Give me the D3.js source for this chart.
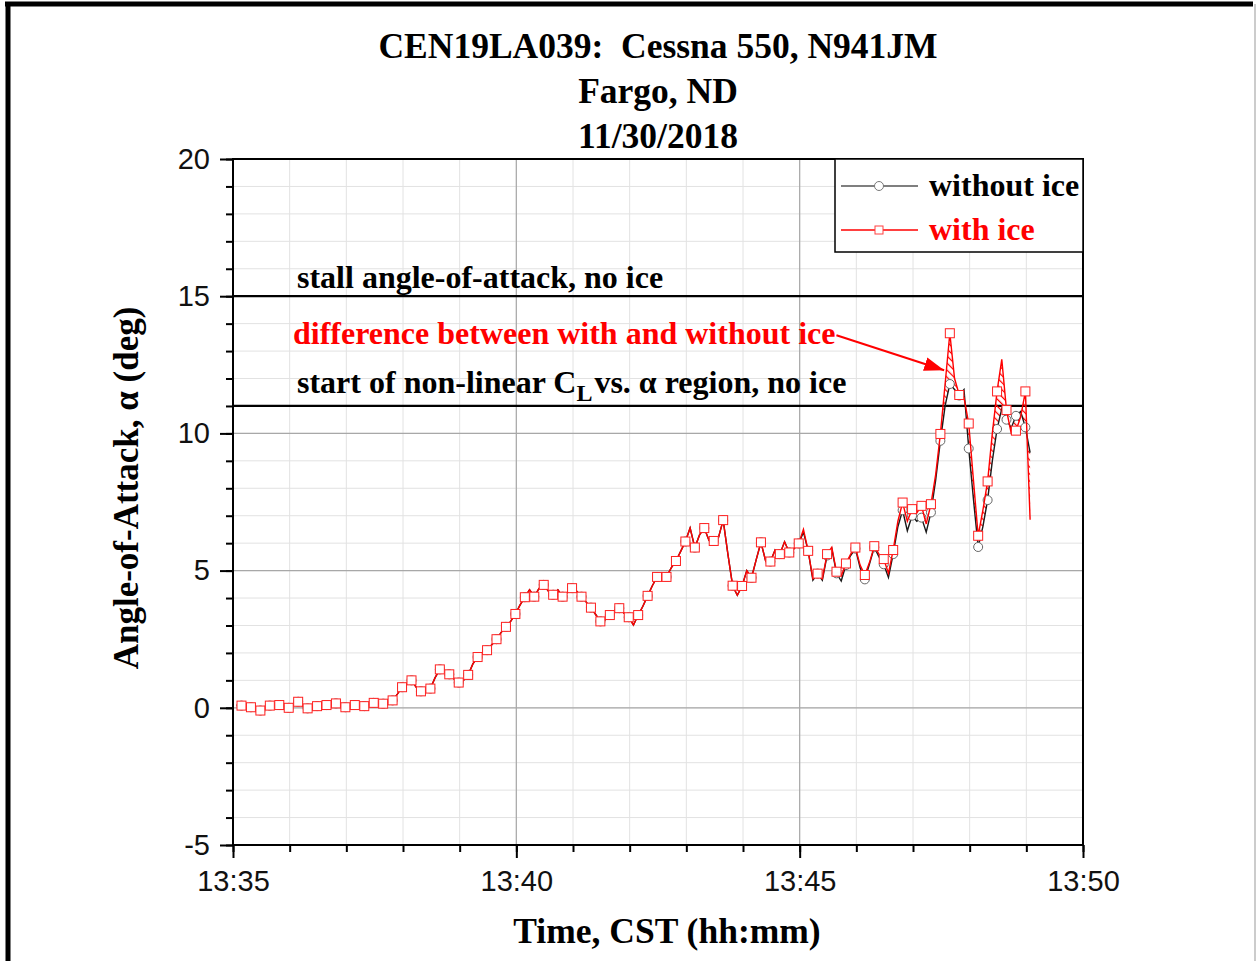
<!DOCTYPE html>
<html>
<head>
<meta charset="utf-8">
<script src="https://cdn.jsdelivr.net/npm/d3@7"></script>
<style>
  body { margin: 0; background: #fff; }
  .serif { font-family: "Liberation Serif", "Times New Roman", serif; font-weight: bold; }
  .axis text { font-family: "Liberation Sans", Arial, sans-serif; font-size: 29px; fill: #111; }
</style>
</head>
<body>
<div id="chart"></div>
<script>
// seconds after 13:35:00, one row per minute
var secs = [
  4, 9, 14, 19, 24, 29, 34, 39, 44, 49, 54, 59,
  64, 69, 74, 79, 84, 89, 94, 99, 104, 109, 114, 119,
  124, 129, 134, 139, 144, 149, 154, 159, 164, 169, 174, 179,
  184, 189, 194, 199, 204, 209, 214, 219, 224, 229, 234, 239,
  244, 249, 254, 259, 264, 269, 274, 279, 284, 289, 294, 299,
  304, 309, 314, 319, 324, 329, 334, 339, 344, 349, 354, 359,
  364, 369, 374, 379, 384, 389, 394, 399, 404, 409, 414, 419,
  424, 429, 434, 439, 444, 449, 454, 459, 464, 469, 474, 479,
  484, 489, 494, 499, 504, 509, 514, 519, 524, 529, 534, 539,
  544, 549, 554, 559, 564, 569, 574, 579, 584, 589, 594, 599,
  604, 609, 614, 619, 624, 629, 634, 639, 644, 649, 654, 659,
  664, 669, 674, 679, 684, 689, 694, 699, 704, 709, 714, 719,
  724, 729, 734, 739, 744, 749, 754, 759, 764, 769, 774, 779,
  784, 789, 794, 799, 804, 809, 814, 819, 824, 829, 834, 839,
  844
];

// angle of attack with ice (deg)
var aoaIce = [
  0.10, 0.08, 0.03, 0.02, -0.05, -0.10, 0.00, 0.08, 0.10, 0.10, 0.05, 0.00,
  0.12, 0.22, 0.05, -0.02, 0.03, 0.06, 0.08, 0.10, 0.14, 0.16, 0.05, 0.02,
  0.06, 0.10, 0.08, 0.06, 0.12, 0.18, 0.16, 0.15, 0.20, 0.27, 0.50, 0.75,
  0.88, 1.00, 0.75, 0.60, 0.62, 0.70, 1.10, 1.40, 1.30, 1.22, 1.05, 0.92,
  1.00, 1.20, 1.60, 1.85, 2.00, 2.10, 2.30, 2.50, 2.75, 2.95, 3.15, 3.42,
  3.75, 4.03, 4.30, 4.05, 4.35, 4.48, 4.25, 4.12, 4.30, 4.05, 4.20, 4.36,
  4.25, 4.05, 3.85, 3.65, 3.40, 3.15, 3.20, 3.38, 3.55, 3.63, 3.45, 3.30,
  3.02, 3.38, 3.70, 4.08, 4.45, 4.77, 4.75, 4.77, 5.10, 5.35, 5.70, 6.06,
  6.55, 5.84, 6.30, 6.55, 6.10, 6.08, 6.20, 6.84, 5.60, 4.45, 4.10, 4.44,
  5.00, 4.74, 5.40, 6.03, 5.35, 5.33, 5.75, 5.60, 6.05, 5.66, 5.80, 5.99,
  6.50, 5.72, 4.70, 4.89, 4.70, 5.60, 5.85, 4.96, 4.80, 5.26, 5.60, 5.84,
  5.20, 4.84, 5.30, 5.89, 5.60, 5.42, 4.90, 5.75, 6.80, 7.48, 6.80, 7.24,
  7.10, 7.36, 6.70, 7.42, 8.50, 9.98, 11.80, 13.65, 12.00, 11.40, 11.30, 10.36,
  8.30, 6.27, 7.20, 8.25, 10.00, 11.53, 12.70, 10.85, 10.00, 10.10, 10.60, 11.53,
  6.85
];

// angle of attack without ice (deg)
var aoaNoIce = [
  0.10, 0.08, 0.03, 0.02, -0.05, -0.10, 0.00, 0.08, 0.10, 0.10, 0.05, 0.00,
  0.12, 0.22, 0.05, -0.02, 0.03, 0.06, 0.08, 0.10, 0.14, 0.16, 0.05, 0.02,
  0.06, 0.10, 0.08, 0.06, 0.12, 0.18, 0.16, 0.15, 0.20, 0.27, 0.50, 0.75,
  0.88, 1.00, 0.75, 0.60, 0.62, 0.70, 1.10, 1.40, 1.30, 1.22, 1.05, 0.92,
  1.00, 1.20, 1.60, 1.85, 2.00, 2.10, 2.30, 2.50, 2.75, 2.95, 3.15, 3.42,
  3.75, 4.03, 4.30, 4.05, 4.35, 4.48, 4.25, 4.12, 4.30, 4.05, 4.20, 4.36,
  4.25, 4.05, 3.85, 3.65, 3.40, 3.15, 3.20, 3.38, 3.55, 3.63, 3.45, 3.30,
  3.02, 3.38, 3.70, 4.08, 4.45, 4.77, 4.75, 4.77, 5.10, 5.35, 5.70, 6.06,
  6.55, 5.84, 6.30, 6.55, 6.10, 6.08, 6.20, 6.84, 5.60, 4.45, 4.10, 4.44,
  5.00, 4.74, 5.40, 6.03, 5.35, 5.33, 5.75, 5.60, 6.05, 5.66, 5.80, 5.99,
  6.40, 5.72, 4.65, 4.89, 4.65, 5.55, 5.80, 4.90, 4.62, 5.20, 5.55, 5.80,
  5.10, 4.68, 5.25, 5.85, 5.50, 5.23, 4.75, 5.60, 6.60, 7.20, 6.45, 7.00,
  6.80, 6.93, 6.40, 7.12, 8.30, 9.73, 11.00, 11.80, 11.60, 11.38, 11.60, 9.45,
  7.60, 5.86, 6.60, 7.57, 9.00, 10.16, 10.90, 10.50, 10.20, 10.64, 10.80, 10.22,
  9.30
];

var xTickLabels = ["13:35", "13:40", "13:45", "13:50"];
var yTicks = [-5, 0, 5, 10, 15, 20];
var yTickLabels = ["-5", "0", "5", "10", "15", "20"];
var refLines = [
  { value: 15, label: "stall angle-of-attack, no ice" },
  { value: 11, label: "start of non-linear C" }
];
var titleLines = ["CEN19LA039:  Cessna 550, N941JM", "Fargo, ND", "11/30/2018"];
var seriesNames = ["without ice", "with ice"];
var hatchFrom = 749; // seconds, start of the shaded difference

var svgWidth = 1259;
var svgHeight = 961;
var margin = { top: 159, right: 176, bottom: 116, left: 233 };
var chartWidth = svgWidth - margin.left - margin.right;
var chartHeight = svgHeight - margin.top - margin.bottom;

var t0 = new Date(2018, 10, 30, 13, 35, 0);
function toDate(s) { return new Date(t0.getTime() + s * 1000); }

var data = secs.map(function(s, i) {
  return { t: s, date: toDate(s), ice: aoaIce[i], noIce: aoaNoIce[i], mark: (s - 9) % 10 === 0 };
});

var svg = d3.select("#chart").append("svg")
  .attr("width", svgWidth)
  .attr("height", svgHeight);

// page frame
svg.append("line").attr("x1", 5).attr("x2", 1253).attr("y1", 4).attr("y2", 4)
  .attr("stroke", "#000").attr("stroke-width", 5);
svg.append("line").attr("x1", 8).attr("x2", 8).attr("y1", 2).attr("y2", svgHeight)
  .attr("stroke", "#000").attr("stroke-width", 5);
svg.append("line").attr("x1", 1255).attr("x2", 1255).attr("y1", 4).attr("y2", svgHeight)
  .attr("stroke", "#bbb").attr("stroke-width", 1.5);

var defs = svg.append("defs");
var hatch = defs.append("pattern")
  .attr("id", "hatch")
  .attr("patternUnits", "userSpaceOnUse")
  .attr("width", 5).attr("height", 5)
  .attr("patternTransform", "rotate(-45)");
hatch.append("line").attr("x1", 0).attr("y1", 0).attr("x2", 0).attr("y2", 5)
  .attr("stroke", "#ff0000").attr("stroke-width", 2.4);

defs.append("marker")
  .attr("id", "arrow")
  .attr("markerUnits", "userSpaceOnUse")
  .attr("markerWidth", 20).attr("markerHeight", 14)
  .attr("refX", 20).attr("refY", 7)
  .attr("orient", "auto")
  .append("path")
  .attr("d", "M0,0 L20,7 L0,14 Z")
  .attr("fill", "#ff0000");

// title
svg.append("g").selectAll("text")
  .data(titleLines)
  .enter()
  .append("text")
  .attr("class", "serif")
  .attr("x", 658)
  .attr("y", function(d, i) { return 58 + i * 45; })
  .attr("text-anchor", "middle")
  .attr("font-size", "35.5px")
  .style("white-space", "pre")
  .text(function(d) { return d; });

var chartGroup = svg.append("g")
  .attr("transform", `translate(${margin.left}, ${margin.top})`);

var xScale = d3.scaleTime()
  .domain([t0, toDate(900)])
  .range([0, chartWidth]);

var yScale = d3.scaleLinear()
  .domain([-5, 20])
  .range([chartHeight, 0]);

var minorX = xScale.ticks(d3.timeMinute.every(1));
var majorX = xScale.ticks(d3.timeMinute.every(5));
var minorY = yScale.ticks(25);

// grid
chartGroup.append("g").selectAll("line")
  .data(minorX).enter().append("line")
  .attr("x1", d => xScale(d)).attr("x2", d => xScale(d))
  .attr("y1", 0).attr("y2", chartHeight)
  .attr("stroke", "#e2e2e2").attr("stroke-width", 1);
chartGroup.append("g").selectAll("line")
  .data(minorY).enter().append("line")
  .attr("x1", 0).attr("x2", chartWidth)
  .attr("y1", d => yScale(d)).attr("y2", d => yScale(d))
  .attr("stroke", "#e2e2e2").attr("stroke-width", 1);
chartGroup.append("g").selectAll("line")
  .data(majorX).enter().append("line")
  .attr("x1", d => xScale(d)).attr("x2", d => xScale(d))
  .attr("y1", 0).attr("y2", chartHeight)
  .attr("stroke", "#a8a8a8").attr("stroke-width", 1.2);
chartGroup.append("g").selectAll("line")
  .data(yTicks).enter().append("line")
  .attr("x1", 0).attr("x2", chartWidth)
  .attr("y1", d => yScale(d)).attr("y2", d => yScale(d))
  .attr("stroke", "#a8a8a8").attr("stroke-width", 1.2);

// axes
var bottomAxis = d3.axisBottom(xScale)
  .tickValues(majorX)
  .tickSize(13)
  .tickPadding(12)
  .tickFormat(function(d, i) { return xTickLabels[i]; });
var bottomMinor = d3.axisBottom(xScale).tickValues(minorX).tickSize(7).tickFormat("");
var leftAxis = d3.axisLeft(yScale)
  .tickValues(yTicks)
  .tickSize(13)
  .tickPadding(10)
  .tickFormat(function(d, i) { return yTickLabels[i]; });
var leftMinor = d3.axisLeft(yScale).tickValues(minorY).tickSize(7).tickFormat("");

[bottomMinor, bottomAxis].forEach(function(ax) {
  chartGroup.append("g")
    .classed("axis", true)
    .attr("transform", `translate(0, ${chartHeight})`)
    .call(ax)
    .call(g => g.select(".domain").remove())
    .call(g => g.selectAll(".tick line").attr("stroke", "#000").attr("stroke-width", 2));
});
[leftMinor, leftAxis].forEach(function(ax) {
  chartGroup.append("g")
    .classed("axis", true)
    .call(ax)
    .call(g => g.select(".domain").remove())
    .call(g => g.selectAll(".tick line").attr("stroke", "#000").attr("stroke-width", 2));
});

chartGroup.append("rect")
  .attr("width", chartWidth).attr("height", chartHeight)
  .attr("fill", "none").attr("stroke", "#000").attr("stroke-width", 2);

// reference lines
refLines.forEach(function(r) {
  chartGroup.append("line")
    .attr("x1", 0).attr("x2", chartWidth)
    .attr("y1", yScale(r.value)).attr("y2", yScale(r.value))
    .attr("stroke", "#000").attr("stroke-width", 2.2);
});
chartGroup.append("text")
  .attr("class", "serif")
  .attr("x", 64).attr("y", yScale(refLines[0].value) - 8)
  .attr("font-size", "32px")
  .text(refLines[0].label);
var nonLin = chartGroup.append("text")
  .attr("class", "serif")
  .attr("x", 64).attr("y", yScale(refLines[1].value) - 13)
  .attr("font-size", "32px")
  .text(refLines[1].label);
nonLin.append("tspan").attr("dy", 8).attr("font-size", "24px").text("L");
nonLin.append("tspan").attr("dy", -8).attr("dx", 2).text("vs. \u03b1 region, no ice");

var diffText = chartGroup.append("text")
  .attr("class", "serif")
  .attr("x", 60).attr("y", yScale(13.25))
  .attr("font-size", "32px")
  .attr("fill", "#ff0000")
  .text("difference between with and without ice");
var diffEnd = 60 + diffText.node().getComputedTextLength();

// difference hatch
var hatchArea = d3.area()
  .defined(d => d.t >= hatchFrom)
  .x(d => xScale(d.date))
  .y0(d => yScale(d.noIce))
  .y1(d => yScale(d.ice));
chartGroup.append("path")
  .datum(data)
  .attr("d", hatchArea)
  .attr("fill", "url(#hatch)");

// series
var lineNoIce = d3.line().x(d => xScale(d.date)).y(d => yScale(d.noIce));
var lineIce = d3.line().x(d => xScale(d.date)).y(d => yScale(d.ice));

chartGroup.append("path")
  .datum(data)
  .attr("d", lineNoIce)
  .attr("fill", "none")
  .attr("stroke", "#1a1a1a")
  .attr("stroke-width", 1.4);

chartGroup.append("g").selectAll("circle")
  .data(data.filter(d => d.mark))
  .enter()
  .append("circle")
  .attr("cx", d => xScale(d.date))
  .attr("cy", d => yScale(d.noIce))
  .attr("r", 4.5)
  .attr("fill", "#fff")
  .attr("stroke", "#666")
  .attr("stroke-width", 1);

chartGroup.append("path")
  .datum(data)
  .attr("d", lineIce)
  .attr("fill", "none")
  .attr("stroke", "#ff0000")
  .attr("stroke-width", 1.4);

chartGroup.append("g").selectAll("rect")
  .data(data.filter(d => d.mark))
  .enter()
  .append("rect")
  .attr("x", d => xScale(d.date) - 4.5)
  .attr("y", d => yScale(d.ice) - 4.5)
  .attr("width", 9).attr("height", 9)
  .attr("fill", "#fff")
  .attr("stroke", "#ff2020")
  .attr("stroke-width", 1);

// arrow from label to the difference
chartGroup.append("line")
  .attr("x1", diffEnd + 1).attr("y1", yScale(13.25) - 9)
  .attr("x2", xScale(toDate(753))).attr("y2", yScale(12.3))
  .attr("stroke", "#ff0000").attr("stroke-width", 2)
  .attr("marker-end", "url(#arrow)");

// legend
var legend = chartGroup.append("g")
  .attr("transform", `translate(${chartWidth - 248}, 0)`);
legend.append("rect")
  .attr("width", 248).attr("height", 93)
  .attr("fill", "#fff").attr("stroke", "#000").attr("stroke-width", 1.5);
var legendRows = [
  { name: seriesNames[0], color: "#555", text: "#000", shape: "circle" },
  { name: seriesNames[1], color: "#ff0000", text: "#ff0000", shape: "square" }
];
legendRows.forEach(function(r, i) {
  var y = 27 + i * 44;
  legend.append("line").attr("x1", 6).attr("x2", 83).attr("y1", y).attr("y2", y)
    .attr("stroke", r.color).attr("stroke-width", 1.4);
  if (r.shape === "circle") {
    legend.append("circle").attr("cx", 44).attr("cy", y).attr("r", 4.5)
      .attr("fill", "#fff").attr("stroke", "#777");
  } else {
    legend.append("rect").attr("x", 40).attr("y", y - 4).attr("width", 8).attr("height", 8)
      .attr("fill", "#fff").attr("stroke", "#ff4040");
  }
  legend.append("text")
    .attr("class", "serif")
    .attr("x", 94).attr("y", y + 10)
    .attr("font-size", "32px")
    .attr("fill", r.text)
    .text(r.name);
});

// axis titles
svg.append("text")
  .attr("class", "serif")
  .attr("x", 667).attr("y", 943)
  .attr("text-anchor", "middle")
  .attr("font-size", "35.5px")
  .text("Time, CST (hh:mm)");
svg.append("text")
  .attr("class", "serif")
  .attr("transform", "translate(138, 488) rotate(-90)")
  .attr("text-anchor", "middle")
  .attr("font-size", "35px")
  .text("Angle-of-Attack, \u03b1 (deg)");
</script>
</body>
</html>
